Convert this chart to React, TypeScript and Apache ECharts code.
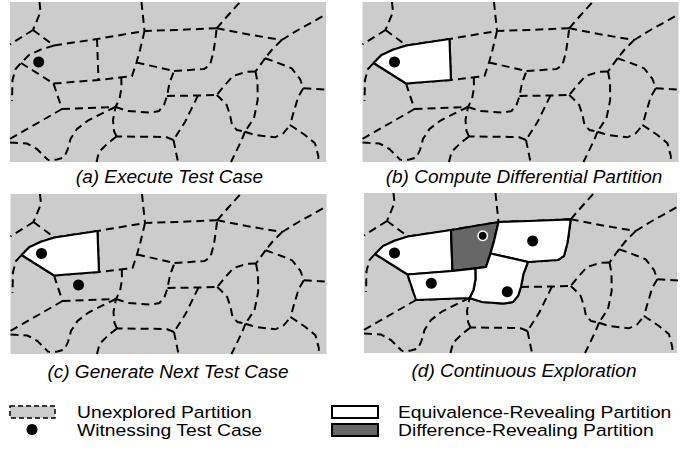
import React, { useEffect, useRef } from "react";
import * as echarts from "echarts";

// ---- Shared partition map (units: px of panel (a), y pointing down) ----
const N1 = [33, 30];
const N2 = [54, 45.5];
const N3 = [97, 39];
const N4 = [144.5, 31];
const N5 = [98.5, 80];
const N6 = [53.5, 83.5];
const N7 = [121.3, 77.3];
const N8 = [136.5, 62.5];
const NX = [132, 76];
const N9 = [174, 71];
const N10 = [216.7, 28.3];
const N11 = [115.5, 107];
const N12 = [62, 109];
const J1 = [167, 96];
const N13 = [216.7, 95];
const N14 = [198, 95.5];
const N15 = [173.5, 140];
const N16 = [116.5, 136.5];
const N17 = [48, 160];
const N18 = [281.7, 40];
const N19 = [265, 58.3];
const N20 = [303.3, 88.3];
const N21 = [255.5, 71.5];
const N22 = [245, 131.7];
const N23 = [290, 125];
const C1 = [21, 63];

const partitionBorders = [
  [[39.5, 2], [40.5, 12], N1],
  [N1, [10, 44.5]],
  [N1, N2],
  [N2, N3, N4, [175, 30], N10],
  [[141.5, 2], N4],
  [N4, [140, 50], N8, NX, N7],
  [N3, N5],
  [N2, [41, 49.5], [29, 55], C1, [15.5, 69], [12.5, 80], [12, 101]],
  [C1, N6],
  [N6, N5, N7],
  [N8, N9],
  [N9, [204, 69], [210, 65], [213.5, 52], [215.5, 38], N10],
  [N7, [121.5, 88], [119.5, 99], N11],
  [N6, N12],
  [N12, N11],
  [N11, [128, 111], [150, 112.7], [159, 111], [164, 105], J1, [169.5, 83], N9],
  [J1, N14, N13],
  [N14, [185, 122], N15],
  [N15, [178, 162]],
  [N15, [166, 137], N16],
  [N16, [114, 131], [113, 120], N11],
  [N16, [108, 143], [99, 152], [96.5, 162]],
  [N11, [105, 112], [88, 120.5], [77, 129], [70.5, 139], [67.5, 150], [64, 157.5], [57, 159.5], N17],
  [[10, 142.5], [27, 143.5], [37, 149], [44, 156], N17],
  [N12, [10, 139]],
  [N10, [227, 16.5], [240, 2]],
  [N10, [251.7, 35], N18],
  [N18, [298, 30], [326, 14.5]],
  [N18, [271.7, 50], N19],
  [N19, [275, 61.7], [291.7, 68.3], [300, 79], N20],
  [N19, N21],
  [N21, [246.7, 71.7], [233, 76], [224, 86], N13],
  [N13, [220, 98], [226.7, 105], [230, 115], [232, 125], [237, 130], N22],
  [N21, [257.5, 82], [257.7, 100], [254, 118], N22],
  [N22, [255, 135], [275, 137.3], [283.3, 133.3], N23],
  [N22, [241.7, 140], [231, 162]],
  [N20, [308, 88.5], [326, 89.5]],
  [N20, [298.3, 96.7], [293.3, 113.3], N23],
  [N23, [305, 135], [315, 143.3], [318.3, 156], [318.5, 162]],
];

// ---- Explored partitions ----
const P1 = [C1, [29, 55], [41, 49.5], N2, N3, N5, N6];
const P2 = [N3, N4, [140, 50], N8, NX, N7, N5];
const P3 = [N4, [175, 30], N10, [215.5, 38], [213.5, 52], [210, 65], [204, 69], N9, N8, [140, 50]];
const P4 = [NX, N8, N9, [169.5, 83], J1, [164, 105], [159, 111], [150, 112.7], [128, 111], N11, [119.5, 99], [121.5, 88], N7];
const P5 = [N6, N5, N7, [121.5, 88], [119.5, 99], N11, N12];

const EQUIV = "#ffffff";
const DIFF = "#676767";

const polysA: any[] = [];
const polysB = [{ pts: P1, fill: EQUIV }];
const polysC = [{ pts: P1, fill: EQUIV }];
const polysD = [
  { pts: P1, fill: EQUIV },
  { pts: P2, fill: DIFF },
  { pts: P3, fill: EQUIV },
  { pts: P4, fill: EQUIV },
  { pts: P5, fill: EQUIV },
];

// ---- Witnessing test cases ----
const dotsA = [[38.7, 62]];
const dotsB = [[42, 62]];
const dotsC = [[41, 61.5], [78, 93]];
const dotsD = [[40.5, 62], [178.7, 50], [77.3, 92.3], [153.3, 100.7]];
const dotsDiffD = [[128.7, 44.7]];

const panelTitles = [
  "(a) Execute Test Case",
  "(b) Compute Differential Partition",
  "(c) Generate Next Test Case",
  "(d) Continuous Exploration",
];

const legendLabels = [
  "Unexplored Partition",
  "Witnessing Test Case",
  "Equivalence-Revealing Partition",
  "Difference-Revealing Partition",
];

const FONT = "'Liberation Sans', Arial, sans-serif";

const panels = [
  { left: 10, top: 2, width: 316, xMax: 326, polys: polysA, dots: dotsA, diff: [] as number[][], tx: 169.5, ty: 176 },
  { left: 362.5, top: 2, width: 316, xMax: 326, polys: polysB, dots: dotsB, diff: [] as number[][], tx: 524, ty: 176 },
  { left: 10.5, top: 194, width: 316, xMax: 326, polys: polysC, dots: dotsC, diff: [] as number[][], tx: 168, ty: 371.5 },
  { left: 364, top: 193, width: 313, xMax: 323, polys: polysD, dots: dotsD, diff: dotsDiffD, tx: 524, ty: 370 },
];

function buildOption() {
  const grid = panels.map((p) => ({
    left: p.left,
    top: p.top,
    width: p.width,
    height: 160,
    show: true,
    backgroundColor: "#cccccc",
    borderWidth: 0,
    borderColor: "transparent",
  }));
  const xAxis = panels.map((p, i) => ({
    type: "value",
    gridIndex: i,
    min: 10,
    max: p.xMax,
    show: false,
  }));
  const yAxis = panels.map((p, i) => ({
    type: "value",
    gridIndex: i,
    min: 2,
    max: 162,
    inverse: true,
    show: false,
  }));
  const series: any[] = [];
  panels.forEach((p, i) => {
    series.push({
      type: "lines",
      coordinateSystem: "cartesian2d",
      xAxisIndex: i,
      yAxisIndex: i,
      polyline: true,
      silent: true,
      clip: true,
      z: 2,
      lineStyle: { color: "#000", width: 2, type: [8, 5], opacity: 1, cap: "butt" },
      data: partitionBorders.map((c) => ({ coords: c })),
    });
    if (p.polys.length) {
      const polys = p.polys;
      series.push({
        type: "custom",
        xAxisIndex: i,
        yAxisIndex: i,
        silent: true,
        z: 3,
        data: polys.map((q: any, k: number) => [q.pts[0][0], q.pts[0][1], k]),
        renderItem: (params: any, api: any) => {
          const q: any = polys[params.dataIndex];
          return {
            type: "polygon",
            shape: { points: q.pts.map((pt: number[]) => api.coord(pt)) },
            style: { fill: q.fill, stroke: "#000", lineWidth: 2.2, lineJoin: "round" },
          };
        },
      });
    }
    series.push({
      type: "scatter",
      xAxisIndex: i,
      yAxisIndex: i,
      silent: true,
      z: 4,
      symbol: "circle",
      symbolSize: 11,
      itemStyle: { color: "#000", opacity: 1 },
      data: p.dots,
    });
    if (p.diff.length) {
      series.push({
        type: "scatter",
        xAxisIndex: i,
        yAxisIndex: i,
        silent: true,
        z: 5,
        symbol: "circle",
        symbolSize: 9.5,
        itemStyle: { color: "#000", borderColor: "#fff", borderWidth: 1.5, opacity: 1 },
        data: p.diff,
      });
    }
  });

  const graphic: any[] = [];
  panels.forEach((p, i) => {
    graphic.push({
      type: "text",
      x: p.tx,
      y: p.ty,
      style: {
        text: panelTitles[i],
        font: `italic 19px ${FONT}`,
        fill: "#000",
        align: "center",
        verticalAlign: "middle",
      },
    });
  });
  // legend
  graphic.push({
    type: "rect",
    shape: { x: 10, y: 406, width: 45, height: 12 },
    style: { fill: "#cccccc", stroke: "#000", lineWidth: 1.5, lineDash: [5, 3] },
  });
  graphic.push({
    type: "circle",
    shape: { cx: 32, cy: 429.5, r: 5.5 },
    style: { fill: "#000" },
  });
  graphic.push({
    type: "rect",
    shape: { x: 332, y: 406, width: 46, height: 12 },
    style: { fill: EQUIV, stroke: "#000", lineWidth: 2 },
  });
  graphic.push({
    type: "rect",
    shape: { x: 332, y: 424, width: 46, height: 12 },
    style: { fill: DIFF, stroke: "#000", lineWidth: 2 },
  });
  const legendPos = [
    [77, 412],
    [77, 430],
    [398, 412],
    [398, 430],
  ];
  legendLabels.forEach((t, i) => {
    graphic.push({
      type: "text",
      x: legendPos[i][0],
      y: legendPos[i][1],
      scaleX: 1.17,
      style: {
        text: t,
        font: `16.5px ${FONT}`,
        fill: "#000",
        align: "left",
        verticalAlign: "middle",
      },
    });
  });

  return {
    animation: false,
    backgroundColor: "#ffffff",
    grid,
    xAxis,
    yAxis,
    series,
    graphic,
  };
}

export default function App() {
  const ref = useRef<HTMLDivElement>(null);
  useEffect(() => {
    const chart = echarts.init(ref.current as HTMLDivElement, null, { renderer: "svg" });
    chart.setOption(buildOption() as any);
    return () => chart.dispose();
  }, []);
  return (
    <div
      ref={ref}
      style={{ position: "absolute", left: 0, top: 0, width: 694, height: 451 }}
    />
  );
}
